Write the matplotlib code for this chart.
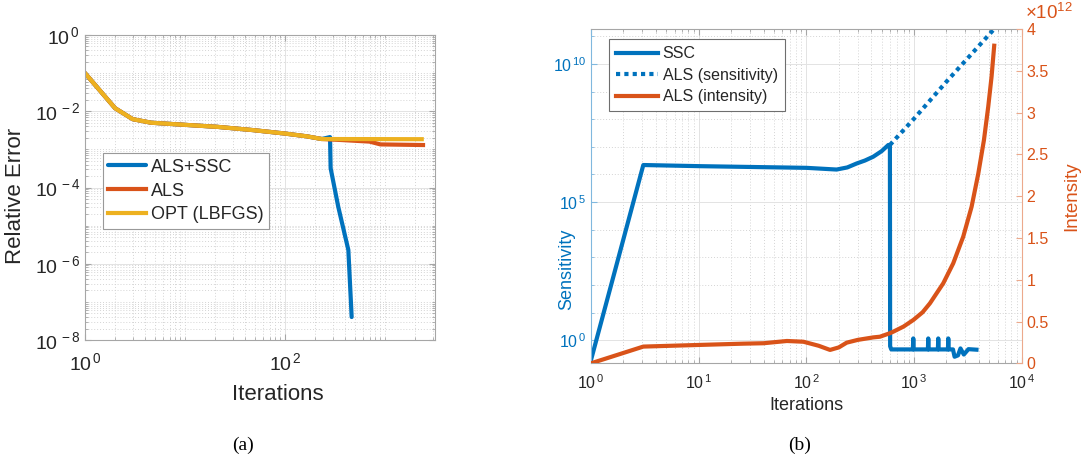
import numpy as np
import matplotlib
matplotlib.use('Agg')
import matplotlib.pyplot as plt
from matplotlib.ticker import LogLocator, FixedLocator, NullFormatter, FuncFormatter, MultipleLocator, FormatStrFormatter

plt.rcParams['font.family'] = 'Liberation Sans'
plt.rcParams['mathtext.fontset'] = 'custom'
plt.rcParams['mathtext.rm'] = 'Liberation Sans'
plt.rcParams['mathtext.it'] = 'Liberation Sans:italic'

BLUE = '#0072BD'
RED = '#D95319'
YELLOW = '#EDB120'
TXT = '#262626'
SPINE = '#a6a6a6'

# ---- panel (a): relative error vs iterations ----
opt_iter = [1, 2, 3, 4.6, 10, 21, 48, 100, 165, 233, 2330]
opt_err = [1e-1, 1.2e-2, 6.2e-3, 5e-3, 4.4e-3, 3.9e-3, 3.2e-3, 2.6e-3, 2.2e-3, 1.87e-3, 1.85e-3]

als_iter = [1, 2, 3, 4.6, 10, 21, 48, 100, 165, 233, 380, 700, 900, 2400]
als_err = [1e-1, 1.2e-2, 6.2e-3, 5e-3, 4.4e-3, 3.9e-3, 3.2e-3, 2.6e-3, 2.2e-3, 1.87e-3, 1.75e-3, 1.6e-3, 1.35e-3, 1.3e-3]

ssc_iter = [1, 2, 3, 4.6, 10, 21, 48, 100, 165, 233, 282, 286, 341, 430, 464]
ssc_err = [1e-1, 1.2e-2, 6.2e-3, 5e-3, 4.4e-3, 3.9e-3, 3.2e-3, 2.6e-3, 2.2e-3, 1.87e-3, 2.1e-3, 3.2e-4, 3.1e-5, 2.3e-6, 4.0e-8]

# ---- panel (b): sensitivity / intensity ----
sens_iter = [1, 3.06, 10.3, 100, 191, 240, 293, 350, 418, 500, 577, 597, 600, 615,
             975, 984, 993, 1345, 1356, 1367, 1665, 1679, 1693, 2065, 2080, 2095,
             2300, 2380, 2560, 2700, 2900, 3200, 3800]
sens_val = [0.19, 2.2e6, 2.0e6, 1.74e6, 1.51e6, 1.8e6, 2.5e6, 3.2e6, 4.4e6, 7.0e6, 1.17e7, 1.17e7, 0.6, 0.46,
            0.46, 1.15, 0.46, 0.46, 1.15, 0.46, 0.46, 1.15, 0.46, 0.46, 1.15, 0.46,
            0.46, 0.25, 0.28, 0.5, 0.3, 0.47, 0.45]

als_sens_iter = [597, 1000, 2000, 5433]
als_sens_val = [1.17e7, 1.05e8, 2.3e9, 1.7e11]

int_iter = [1, 3.06, 10.3, 26, 40, 66, 94, 130, 166, 200, 237, 300, 418, 482, 597, 641,
            800, 984, 1200, 1406, 1868, 2312, 2864, 3425, 3952, 4459, 4888, 5250, 5554]
int_val = [0.0, 0.2, 0.22, 0.235, 0.24, 0.267, 0.258, 0.21, 0.16, 0.19, 0.247, 0.28, 0.31, 0.318, 0.36, 0.378,
           0.44, 0.518, 0.61, 0.718, 0.957, 1.196, 1.515, 1.873, 2.27, 2.67, 3.07, 3.43, 3.80]  # x 1e12


def pow10(v, pos):
    e = int(round(np.log10(v)))
    return r'$\mathregular{10^{\,%d}}$' % e


def style_grid(ax):
    ax.grid(True, which='major', color='#e3e3e3', linestyle='-', linewidth=0.7)
    ax.grid(True, which='minor', color='#d4d4d4', linestyle=(0, (1, 2)), linewidth=0.7)
    ax.set_axisbelow(True)


fig = plt.figure(figsize=(10.83, 4.58), dpi=100)

# ---------------- (a) ----------------
ax1 = fig.add_axes([85 / 1083, 118 / 458, 350 / 1083, 305 / 458])
ax1.set_xscale('log')
ax1.set_yscale('log')
l_ssc, = ax1.plot(ssc_iter, ssc_err, color=BLUE, lw=3, solid_capstyle='round', label='ALS+SSC')
l_als, = ax1.plot(als_iter, als_err, color=RED, lw=3, label='ALS')
l_opt, = ax1.plot(opt_iter, opt_err, color=YELLOW, lw=3, label='OPT (LBFGS)')
ax1.set_xlim(1, 10 ** 3.5)
ax1.set_ylim(1e-8, 1)
ax1.xaxis.set_major_locator(FixedLocator([1, 100, 1e4]))
ax1.xaxis.set_minor_locator(LogLocator(base=10, subs=np.arange(1, 10), numticks=50))
ax1.yaxis.set_major_locator(FixedLocator([1e-8, 1e-6, 1e-4, 1e-2, 1]))
ax1.yaxis.set_minor_locator(LogLocator(base=10, subs=np.arange(1, 10), numticks=50))
ax1.xaxis.set_major_formatter(FuncFormatter(pow10))
ax1.yaxis.set_major_formatter(FuncFormatter(pow10))
ax1.xaxis.set_minor_formatter(NullFormatter())
ax1.yaxis.set_minor_formatter(NullFormatter())
ax1.tick_params(which='both', direction='in', top=True, right=True, color=SPINE,
                labelsize=14, labelcolor=TXT)
ax1.tick_params(which='major', length=4)
ax1.tick_params(which='minor', length=2)
ax1.tick_params(axis='x', pad=9)
for s in ax1.spines.values():
    s.set_color(SPINE)
    s.set_linewidth(0.8)
style_grid(ax1)
ax1.set_xlabel('Iterations', fontsize=16, color=TXT)
ax1.xaxis.set_label_coords((278 - 85) / 350, -(384 - 340) / 305)
ax1.set_ylabel('Relative Error', fontsize=16, color=TXT)
ax1.yaxis.set_label_coords((26 - 85) / 350, (340 - 196) / 305)
leg1 = ax1.legend(handles=[l_ssc, l_als, l_opt], loc='upper left',
                  bbox_to_anchor=(102.7 / 1083, 1 - 153.3 / 458), bbox_transform=fig.transFigure,
                  borderaxespad=0, fontsize=13, frameon=True, fancybox=False, framealpha=1,
                  edgecolor='#999999', handlelength=2.1, handletextpad=0.3, labelspacing=0.38,
                  borderpad=0.3)
leg1.get_frame().set_linewidth(0.8)
for t in leg1.get_texts():
    t.set_color(TXT)

# ---------------- (b) ----------------
ax = fig.add_axes([591 / 1083, (458 - 363.3) / 458, 430.7 / 1083, 334.3 / 458])
ax2 = ax.twinx()
ax.set_xscale('log')
ax.set_yscale('log')
l_s, = ax.plot(sens_iter, sens_val, color=BLUE, lw=3, solid_joinstyle='round', label='SSC')
l_d, = ax.plot(als_sens_iter, als_sens_val, color=BLUE, lw=3, linestyle=(0, (1, 1)),
               dash_capstyle='butt', label='ALS (sensitivity)')
l_i, = ax2.plot(int_iter, int_val, color=RED, lw=3, label='ALS (intensity)')
ax.set_xlim(1, 1e4)
ax.set_ylim(10 ** -0.84, 10 ** 11.27)
ax2.set_ylim(0, 4)
ax.xaxis.set_major_locator(FixedLocator([1, 10, 100, 1e3, 1e4]))
ax.xaxis.set_minor_locator(LogLocator(base=10, subs=np.arange(1, 10), numticks=50))
ax.yaxis.set_major_locator(FixedLocator([1, 1e5, 1e10]))
ax.yaxis.set_minor_locator(FixedLocator([10.0 ** k for k in range(-1, 13)]))
ax.xaxis.set_major_formatter(FuncFormatter(pow10))
ax.yaxis.set_major_formatter(FuncFormatter(pow10))
ax.xaxis.set_minor_formatter(NullFormatter())
ax.yaxis.set_minor_formatter(NullFormatter())
ax.tick_params(which='both', direction='in', top=True, right=False, labelsize=11.5)
ax.tick_params(axis='x', which='both', color=SPINE, labelcolor=TXT, pad=7)
ax.tick_params(axis='y', which='both', color='#80b8de', labelcolor=BLUE)
ax.tick_params(which='major', length=4)
ax.tick_params(which='minor', length=2)
ax2.yaxis.set_major_locator(MultipleLocator(0.5))
ax2.yaxis.set_major_formatter(FormatStrFormatter('%g'))
ax2.tick_params(axis='y', direction='in', length=4, color='#eca98c', labelcolor=RED, labelsize=11.5)
for name in ['top', 'bottom']:
    ax.spines[name].set_color(SPINE)
ax.spines['left'].set_color('#80b8de')
ax.spines['right'].set_visible(False)
for name in ['top', 'bottom', 'left']:
    ax2.spines[name].set_visible(False)
ax2.spines['right'].set_color('#eca98c')
for s in list(ax.spines.values()) + list(ax2.spines.values()):
    s.set_linewidth(0.8)
style_grid(ax)
ax.set_xlabel('Iterations', fontsize=13, color=TXT)
ax.set_ylabel('Sensitivity', fontsize=13, color=BLUE)
ax.yaxis.set_label_coords((575 - 591) / 430.7, 0.282)
ax2.set_ylabel('Intensity', fontsize=13.5, color=RED)
ax2.yaxis.set_label_coords((1063 - 591) / 430.7, 0.5)
ax2.text(1 + 3 / 430.7, 1 + 10 / 334.3, r'$\mathregular{\times10^{12}}$', transform=ax2.transAxes,
         color=RED, fontsize=13.5, ha='left', va='baseline')
leg2 = ax2.legend(handles=[l_s, l_d, l_i], loc='upper left',
                  bbox_to_anchor=(609 / 1083, 1 - 39.3 / 458), bbox_transform=fig.transFigure,
                  borderaxespad=0, fontsize=11.5, frameon=True, fancybox=False, framealpha=1,
                  edgecolor='#6e6e6e', handlelength=2.6, handletextpad=0.3, labelspacing=0.4,
                  borderpad=0.45)
leg2.get_frame().set_linewidth(0.8)
for t in leg2.get_texts():
    t.set_color(TXT)

fig.text(243 / 1083, 1 - 445 / 458, '(a)', family='Liberation Serif', fontsize=14, ha='center', va='center')
fig.text(800 / 1083, 1 - 445 / 458, '(b)', family='Liberation Serif', fontsize=14, ha='center', va='center')

fig.savefig('out.png', dpi=100)
